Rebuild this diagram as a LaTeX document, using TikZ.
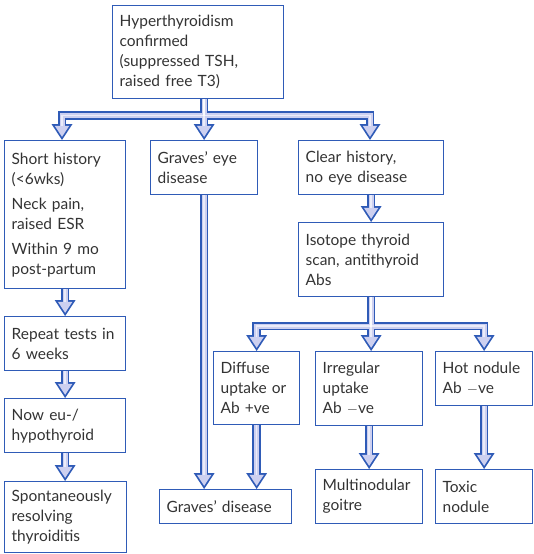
\documentclass[tikz,border=0pt]{standalone}
\usepackage{fontspec}
\setmainfont{Lato}
\usetikzlibrary{arrows.meta, positioning, backgrounds}
\definecolor{boxblue}{HTML}{2F5BB7}
\definecolor{lavender}{HTML}{CDD0F0}
\definecolor{ink}{HTML}{333333}
\tikzset{
  box/.style={draw=boxblue, line width=1.3pt, anchor=north west, align=left,
    text=ink, inner xsep=7pt, inner ysep=4pt,
    font=\fontsize{15.5}{20}\selectfont},
  arrowout/.style={draw=boxblue, line width=8.5pt,
    -{Triangle[length=16pt,width=21pt,line width=0pt]}},
  arrowin/.style={draw=lavender, line width=5pt, shorten >=3.2pt,
    -{Triangle[length=11pt,width=14.5pt,line width=0pt]}},
  arrowcore/.style={draw=white, opacity=.6, line width=1.6pt, shorten >=14pt}
}
\begin{document}
\begin{tikzpicture}[x=1pt, y=-1pt]
  \useasboundingbox (0,0) rectangle (533,554);
  % boxes
  \node[box, text width=157pt, minimum height=93pt] (top) at (112,5)
    {Hyperthyroidism\\confirmed\\(suppressed TSH,\\raised free T3)};
  \node[box, text width=107pt, minimum height=148pt] (short) at (4,140)
    {Short history\\(<6wks)\\[5pt]Neck pain,\\raised ESR\\[5pt]Within 9 mo\\post-partum};
  \node[box, text width=93pt, minimum height=54pt] (gEye) at (150,140)
    {Graves’ eye\\disease};
  \node[box, text width=131pt, minimum height=54pt] (clear) at (298,140)
    {Clear history,\\no eye disease};
  \node[box, text width=131pt, minimum height=74pt] (iso) at (298,222)
    {Isotope thyroid\\scan, antithyroid\\Abs};
  \node[box, text width=107pt, minimum height=54pt] (repeat) at (4,316)
    {Repeat tests in\\6 weeks};
  \node[box, text width=107pt, minimum height=54pt] (nowEu) at (4,398)
    {Now eu-/\\hypothyroid};
  \node[box, text width=108pt, minimum height=71pt] (spont) at (4,481)
    {Spontaneously\\resolving\\thyroiditis};
  \node[box, text width=118pt, minimum height=34pt] (gDis) at (159,489)
    {Graves’ disease};
  \node[box, text width=72pt, minimum height=73pt] (diffuse) at (213,351)
    {Diffuse\\uptake or\\Ab +ve};
  \node[box, text width=93pt, minimum height=74pt] (irreg) at (315,351)
    {Irregular\\uptake\\Ab $-$ve};
  \node[box, text width=83pt, minimum height=54pt] (hot) at (435,351)
    {Hot nodule\\Ab $-$ve};
  \node[box, text width=93pt, minimum height=54pt] (multi) at (315,469)
    {Multinodular\\goitre};
  \node[box, text width=83pt, minimum height=54pt] (toxic) at (435,469)
    {Toxic\\nodule};
  % fat hollow arrows
  \coordinate (barL) at (62,115.5);
  \coordinate (barR) at (370,115.5);
  \coordinate (barIso) at (0,326);
  \begin{scope}[on background layer]
    \foreach \lay in {arrowout, arrowin, arrowcore} {
      \draw[\lay] (top.south -| gEye.north) |- (barL) -- (barL |- short.north);
      \draw[\lay] (top.south -| gEye.north) -- (gEye.north);
      \draw[\lay] (top.south -| gEye.north) |- (barR) -- (barR |- clear.north);
      \draw[\lay] (clear.south) -- (clear.south |- iso.north);
      \draw[\lay] (iso.south) -- (iso.south |- barIso) -| (diffuse.north);
      \draw[\lay] (iso.south) -- (iso.south |- irreg.north);
      \draw[\lay] (iso.south) -- (iso.south |- barIso) -| (hot.north);
      \draw[\lay] (short.south) -- (short.south |- repeat.north);
      \draw[\lay] (repeat.south) -- (repeat.south |- nowEu.north);
      \draw[\lay] (nowEu.south) -- (nowEu.south |- spont.north);
      \draw[\lay] (gEye.south) -- (gEye.south |- gDis.north);
      \draw[\lay] (diffuse.south) -- (diffuse.south |- gDis.north);
      \draw[\lay] (irreg.south) -- (irreg.south |- multi.north);
      \draw[\lay] (hot.south) -- (hot.south |- toxic.north);
    }
  \end{scope}
\end{tikzpicture}
\end{document}
